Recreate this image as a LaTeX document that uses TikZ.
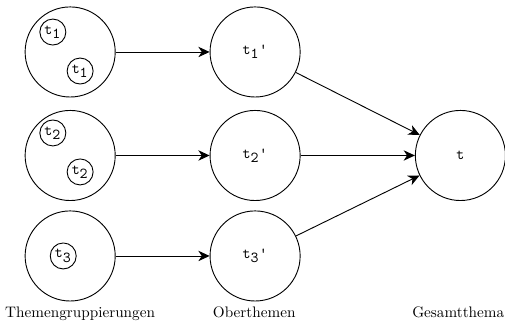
\documentclass[tikz,border=0pt]{standalone}
\usetikzlibrary{arrows.meta}

\newcommand{\tlab}[1]{\texttt{t$_{\texttt{#1}}$}}

\begin{document}
\begin{tikzpicture}[
every node/.style={
    circle,
    draw,
    semithick,
    inner sep=0pt
},
big/.style={minimum size=20.8mm},
small/.style={minimum size=6mm},
caption/.style={draw=none,rectangle,anchor=base},
link/.style={semithick,-{Stealth[length=2.6mm,width=2.4mm,inset=0.8mm]}}
]
\useasboundingbox (0,0) rectangle (11.66,7.39);

%---------------- Themengruppierungen ----------------
\node[big] (g1) at (1.62,6.19) {};
\node[small] (g1a) at (1.22,6.65) {\tlab{1}};
\node[small] (g1b) at (1.85,5.75) {\tlab{1}};

\node[big] (g2) at (1.62,3.80) {};
\node[small] (g2a) at (1.22,4.32) {\tlab{2}};
\node[small] (g2b) at (1.85,3.42) {\tlab{2}};

\node[big] (g3) at (1.62,1.48) {};
\node[small] (g3a) at (1.46,1.48) {\tlab{3}};

%---------------- Oberthemen ----------------
\node[big] (o1) at (5.89,6.19) {\tlab{1}\texttt{'}};
\node[big] (o2) at (5.89,3.80) {\tlab{2}\texttt{'}};
\node[big] (o3) at (5.89,1.48) {\tlab{3}\texttt{'}};

%---------------- Gesamtthema ----------------
\node[big] (t) at (10.63,3.80) {\texttt{t}};

\draw[link] (g1)--(o1);
\draw[link] (g2)--(o2);
\draw[link] (g3)--(o3);
\draw[link] (o1)--(t);
\draw[link] (o2)--(t);
\draw[link] (o3)--(t);

\node[caption] at (1.85,0.07) {Themengruppierungen};
\node[caption] at (5.87,0.07) {Oberthemen};
\node[caption] at (10.58,0.07) {Gesamtthema};

\end{tikzpicture}
\end{document}
